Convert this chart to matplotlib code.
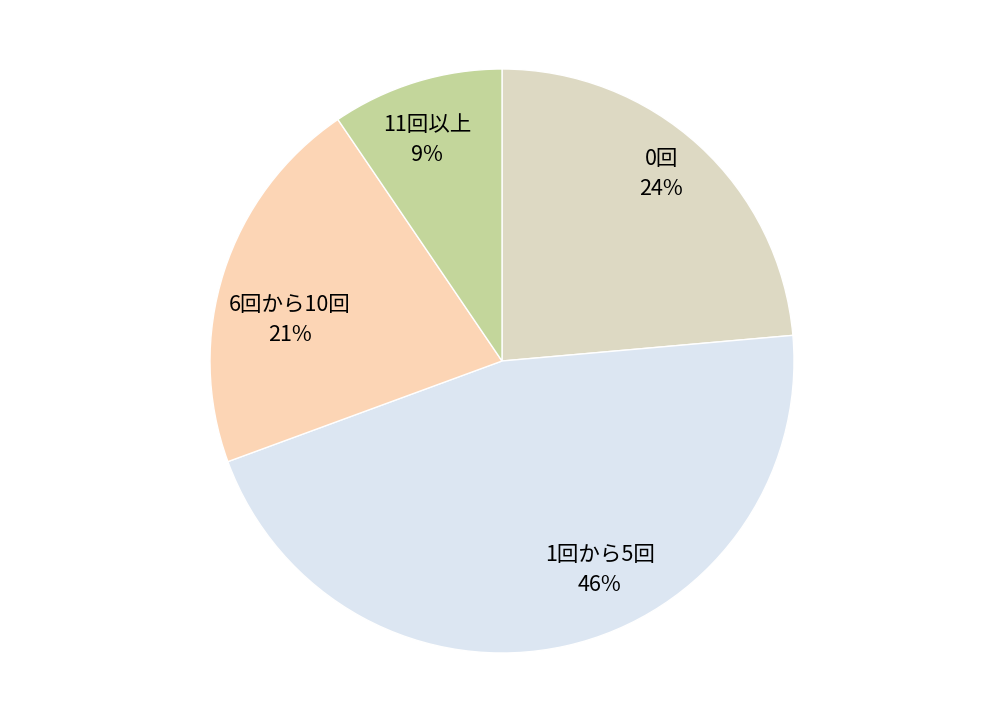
import matplotlib
matplotlib.use("Agg")
import matplotlib.pyplot as plt

categories = ["0回", "1回から5回", "6回から10回", "11回以上"]
values = [23.6, 45.8, 21.1, 9.5]
colors = ["#DDD9C3", "#DCE6F2", "#FCD5B5", "#C3D69B"]
pct_labels = ["24%", "46%", "21%", "9%"]

plt.rcParams['font.family'] = ['Noto Sans CJK JP', 'DejaVu Sans']

fig = plt.figure(figsize=(10.04, 7.2), dpi=100)
ax = fig.add_axes([210/1004, 67/720, 584/1004, 584/720])
wedges, _ = ax.pie(values, colors=colors, startangle=90, counterclock=False,
                   radius=1.0, wedgeprops=dict(edgecolor="white", linewidth=1))
ax.set_xlim(-1, 1)
ax.set_ylim(-1, 1)
ax.set_aspect('equal')
ax.axis('off')

label_pos = [(0.545, 0.64), (0.335, -0.715), (-0.726, 0.14), (-0.257, 0.757)]
for cat, pct, (x, y) in zip(categories, pct_labels, label_pos):
    ax.text(x, y, f"{cat}\n{pct}", ha="center", va="center", fontsize=15.5,
            color="black", linespacing=1.45)

fig.savefig("out.png", dpi=100)
